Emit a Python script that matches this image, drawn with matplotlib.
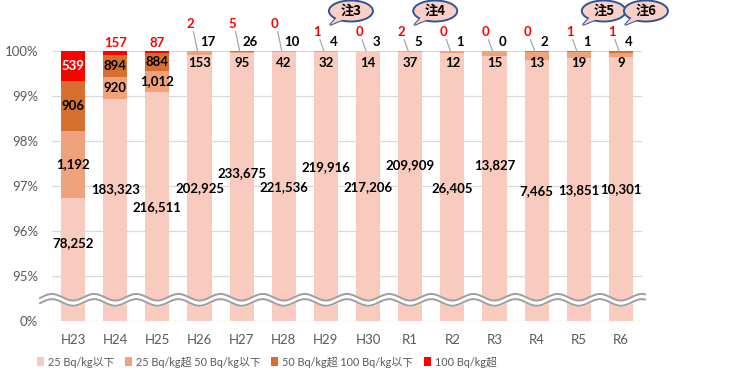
import numpy as np
import matplotlib.pyplot as plt
from matplotlib.patches import Ellipse, Polygon, Patch

plt.rcParams['font.family'] = ['Lato', 'Noto Sans CJK JP', 'DejaVu Sans']

# inspection counts per fiscal year
years = ['H23', 'H24', 'H25', 'H26', 'H27', 'H28', 'H29', 'H30',
         'R1', 'R2', 'R3', 'R4', 'R5', 'R6']
le25 = [78252, 183323, 216511, 202925, 233675, 221536, 219916, 217206,
        209909, 26405, 13827, 7465, 13851, 10301]
gt25 = [1192, 920, 1012, 153, 95, 42, 32, 14, 37, 12, 15, 13, 19, 9]
gt50 = [906, 894, 884, 17, 26, 10, 4, 3, 5, 1, 0, 2, 1, 4]
gt100 = [539, 157, 87, 2, 5, 0, 1, 0, 2, 0, 0, 0, 1, 1]
series_names = ['25 Bq/kg以下', '25 Bq/kg超 50 Bq/kg以下',
                '50 Bq/kg超 100 Bq/kg以下', '100 Bq/kg超']
notes = {'H29': '注3', 'R1': '注4', 'R5': '注5', 'R6': '注6'}

# where the big "25 Bq/kg以下" numbers sit on the axis (percent)
low_label_y = [95.73, 96.93, 96.53, 96.96, 97.29, 96.98, 97.42, 96.98,
               97.47, 96.96, 97.47, 96.89, 96.91, 96.93]

colors = ['#F8CBBE', '#F0A27C', '#D5702F', '#FF0000']
txt_gray = '#595959'

counts = np.array([le25, gt25, gt50, gt100], dtype=float)
pct = counts / counts.sum(axis=0) * 100
x = np.arange(len(years))

W, H = 744, 373
fig = plt.figure(figsize=(W / 100, H / 100), dpi=100)
ax = fig.add_axes([52 / W, 1 - 321 / H, 590 / W, 270 / H])

# pixel -> data scale factors
px_x = 1 / 42.14
px_y = 1 / 45.0

bottom = np.zeros(len(years))
for k in range(4):
    ax.bar(x, pct[k], 0.57, bottom=bottom, color=colors[k], zorder=2,
           label=series_names[k])
    bottom += pct[k]

ax.set_xlim(-0.5, 13.5)
ax.set_ylim(94, 100)
ax.set_yticks([94, 95, 96, 97, 98, 99, 100])
ax.set_yticklabels(['0%', '95%', '96%', '97%', '98%', '99%', '100%'])
ax.set_xticks(x)
ax.set_xticklabels(years)
ax.tick_params(length=0, colors=txt_gray, labelsize=9.5)
ax.tick_params(axis='x', pad=9)
ax.tick_params(axis='y', pad=10)
for s in ax.spines.values():
    s.set_visible(False)
ax.grid(axis='y', color='#D9D9D9', lw=0.9, zorder=0)

lab = dict(ha='center', va='center', fontsize=9.5, fontweight='bold',
           clip_on=False, zorder=5)
cum = np.cumsum(pct, axis=0)
for i in x:
    ax.text(i, low_label_y[i], f'{le25[i]:,}', color='black', **lab)
    if pct[2, i] > 0.2:
        # tall upper segments: numbers sit inside
        ax.text(i, cum[0, i] + pct[1, i] / 2, f'{gt25[i]:,}', color='black', **lab)
        ax.text(i, cum[1, i] + pct[2, i] / 2, f'{gt50[i]:,}', color='black', **lab)
        if pct[3, i] > 0.4:
            ax.text(i, cum[2, i] + pct[3, i] / 2, f'{gt100[i]:,}', color='white', **lab)
        else:
            ax.text(i, 100.17, f'{gt100[i]:,}', color='#FF0000', **lab)
    else:
        ax.text(i, 99.74, f'{gt25[i]:,}', color='black', **lab)
        ax.text(i + 8 * px_x, 100.2, f'{gt50[i]:,}', color='black', **lab)
        xr = i - 9 * px_x
        yr_lab = 100.6 if i < 6 else 100.42
        ax.text(xr, yr_lab, f'{gt100[i]:,}', color='#FF0000', **lab)
        ax.plot([xr + 3 * px_x, i - 2 * px_x], [yr_lab - 0.17, 100.0], color='#A6A6A6',
                lw=0.9, clip_on=False, zorder=4)

# wavy break between 0% and 95%
xw = np.linspace(-0.5 - 12 * px_x, 13.5 + 3 * px_x, 800)
yc = 94.47
amp = 3.3 * px_y
gap = 2.6 * px_y
wave = yc + amp * np.cos(2 * np.pi * (xw + 0.5))
ax.fill_between(xw, wave - gap, wave + gap, color='white', zorder=6, clip_on=False)
ax.plot(xw, wave + gap, color='#9E9E9E', lw=1.4, zorder=7, clip_on=False)
ax.plot(xw, wave - gap, color='#9E9E9E', lw=1.4, zorder=7, clip_on=False)

# speech-bubble notes
for yr, note in notes.items():
    i = years.index(yr)
    tip = (i + 4 * px_x, 100 + 26 * px_y)
    cx, cy = tip[0] + 21 * px_x, tip[1] + 14 * px_y
    tail = [tip, (cx - 12 * px_x, cy - 4 * px_y), (cx - 4 * px_x, cy - 7 * px_y)]
    ax.add_patch(Polygon(tail, closed=True, fc='#F9CFC6', ec='#2F5597', lw=1.4,
                         clip_on=False, zorder=8))
    ax.add_patch(Ellipse((cx, cy), 44 * px_x, 21 * px_y, fc='#F9CFC6', ec='#2F5597',
                         lw=1.4, clip_on=False, zorder=9))
    ax.add_patch(Polygon(tail, closed=True, fc='#F9CFC6', ec='none',
                         clip_on=False, zorder=10))
    ax.text(cx, cy, note, ha='center', va='center', fontsize=9.5, fontweight='bold',
            family=['Noto Sans CJK JP'], clip_on=False, zorder=11)

handles = [Patch(facecolor=c) for c in colors]
fig.legend(handles, series_names, loc='center left', bbox_to_anchor=(27 / W, 11 / H),
           ncol=4, frameon=False, fontsize=7.8, handlelength=0.65, handleheight=0.9,
           handletextpad=0.35, columnspacing=1.0, labelcolor=txt_gray)

fig.savefig('out.png', dpi=100)
